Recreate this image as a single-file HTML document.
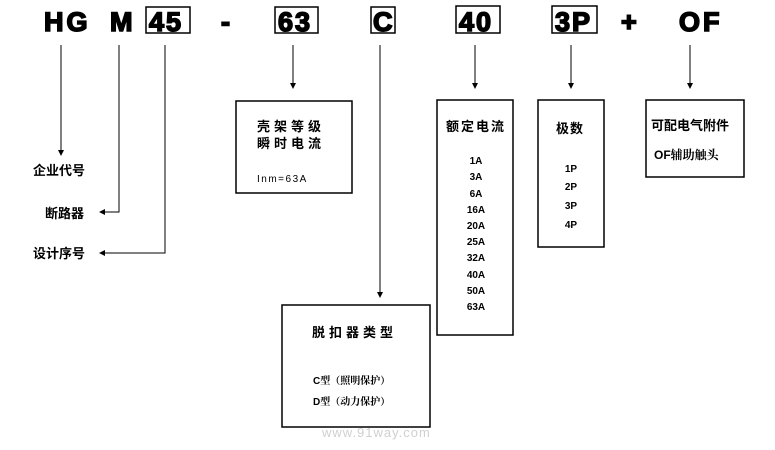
<!DOCTYPE html>
<html><head><meta charset="utf-8"><style>
body{margin:0;background:#fff;}
svg text{font-family:"Liberation Sans","Noto Sans CJK SC",sans-serif;}
.cn{font-family:"Noto Serif CJK SC","Noto Sans CJK SC",serif;font-weight:bold;}
</style></head><body>
<svg width="775" height="445" viewBox="0 0 775 445" xmlns="http://www.w3.org/2000/svg">
<defs><marker id="a" markerWidth="6" markerHeight="6" refX="5" refY="3" orient="auto" markerUnits="userSpaceOnUse"><path d="M0,0 L6,3 L0,6z" fill="#000"/></marker></defs>
<g font-weight="bold" font-size="27" fill="#000" stroke="#000" stroke-width="1.6" letter-spacing="3">
<text x="44" y="31">HG</text>
<text x="110" y="31">M</text>
<text x="149" y="31" letter-spacing="2">45</text>
<text x="221" y="31">-</text>
<text x="278" y="31" letter-spacing="2">63</text>
<text x="373" y="31">C</text>
<text x="459" y="31" letter-spacing="2">40</text>
<text x="555" y="31" letter-spacing="2">3P</text>
<text x="621" y="31">+</text>
<text x="679" y="31">OF</text>
</g>
<g fill="none" stroke="#000" stroke-width="1.5">
<rect x="146" y="7" width="44" height="26"/>
<rect x="275" y="7" width="43" height="26"/>
<rect x="371" y="7" width="24" height="26"/>
<rect x="456" y="6" width="44" height="27"/>
<rect x="552" y="6" width="45" height="27"/>
<rect x="236" y="101" width="116" height="92"/>
<rect x="282" y="305" width="148" height="122"/>
<rect x="437" y="100" width="76" height="235"/>
<rect x="538" y="100" width="66" height="147"/>
<rect x="646" y="100" width="98" height="77"/>
</g>
<g stroke="#000" stroke-width="1" fill="none" marker-end="url(#a)">
<path d="M61,45 V155"/>
<path d="M119,45 V212 H100"/>
<path d="M165,45 V253 H100"/>
<path d="M293,45 V88"/>
<path d="M380,45 V297"/>
<path d="M475,45 V88"/>
<path d="M571,45 V88"/>
<path d="M690,45 V88"/>
</g>
<g class="cn" font-size="13" fill="#000">
<text x="33" y="175">企业代号</text>
<text x="45" y="218">断路器</text>
<text x="33" y="258">设计序号</text>
<text x="257" y="131" letter-spacing="4">壳架等级</text>
<text x="257" y="148" letter-spacing="4">瞬时电流</text>
<text x="446" y="131" letter-spacing="2">额定电流</text>
<text x="556" y="133" letter-spacing="1">极数</text>
<text x="651" y="130">可配电气附件</text>
<text x="312" y="337" letter-spacing="4">脱扣器类型</text>
</g>
<g font-size="10" font-weight="bold" fill="#000">
<text x="257" y="182" font-weight="normal" letter-spacing="1.5">Inm=63A</text>
<g text-anchor="middle">
<text x="476" y="164">1A</text><text x="476" y="180">3A</text><text x="476" y="197">6A</text>
<text x="476" y="213">16A</text><text x="476" y="229">20A</text><text x="476" y="245">25A</text>
<text x="476" y="261">32A</text><text x="476" y="278">40A</text><text x="476" y="294">50A</text>
<text x="476" y="310">63A</text>
<text x="571" y="172">1P</text><text x="571" y="190">2P</text><text x="571" y="209">3P</text><text x="571" y="228">4P</text>
</g>
<text x="654" y="159" font-size="12">OF<tspan class="cn">辅助触头</tspan></text>
<text x="313" y="384">C<tspan class="cn" font-size="10">型（照明保护）</tspan></text>
<text x="313" y="405">D<tspan class="cn" font-size="10">型（动力保护）</tspan></text>
</g>
<text x="322" y="437" font-size="13" fill="#d0d0d0" letter-spacing="1">www.91way.com</text>
</svg>
</body></html>
